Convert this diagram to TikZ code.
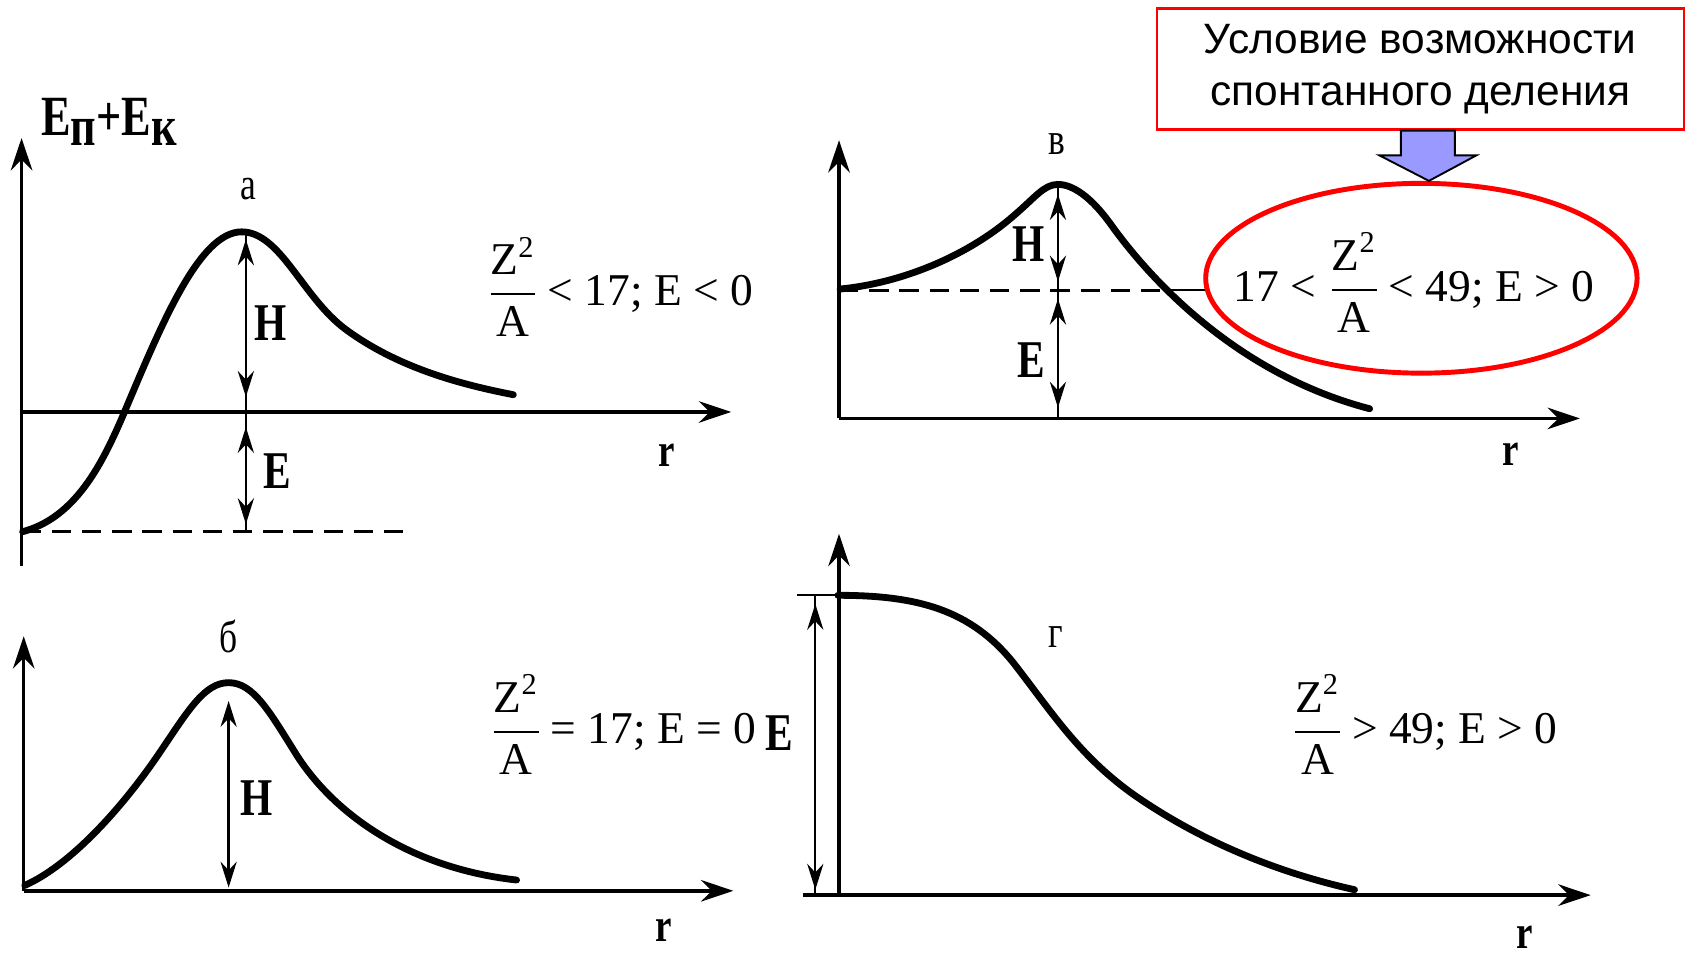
\documentclass[tikz,border=0pt]{standalone}
\usepackage{amsmath}
\usepackage{fontspec}
\setmainfont{Liberation Serif}
\newfontfamily\narrowfont[FakeStretch=0.78]{Liberation Serif}
\newfontfamily\notefont{Liberation Sans}
\usetikzlibrary{positioning, arrows.meta, shapes.geometric, calc}
\definecolor{arrowblue}{RGB}{153,153,255}
\newcommand{\zfrac}{$\dfrac{\text{Z}^{\text{2}}}{\text{A}}$}
\tikzset{
  axis/.style={line width=0.9pt, -{Stealth[length=3mm, width=2mm, inset=1mm]}},
  curve/.style={line width=1.8pt, line cap=round},
  dimline/.style={line width=0.55pt},
  dimarr/.style={line width=0.6pt, {Stealth[length=2.4mm, width=1.5mm, inset=0.8mm]}-{Stealth[length=2.4mm, width=1.5mm, inset=0.8mm]}},
  base/.style={line width=0.75pt, dash pattern=on 1.8mm off 1mm},
  lbl/.style={font=\narrowfont\bfseries\fontsize{14}{16}\selectfont, inner sep=0pt},
  rlbl/.style={font=\narrowfont\bfseries\fontsize{12.5}{14}\selectfont, inner sep=0pt},
  tag/.style={font=\narrowfont\fontsize{12}{14}\selectfont, inner sep=0pt},
  fml/.style={font=\fontsize{12}{14}\selectfont, inner sep=0pt},
  note/.style={draw=red, line width=0.6pt, minimum width=48.9mm, minimum height=11.2mm, align=center, font=\notefont\fontsize{11.2}{13.6}\selectfont},
  oval/.style={draw=red, line width=1.3pt, ellipse, minimum width=40mm, minimum height=17.6mm, inner sep=0pt},
}

\begin{document}
\begin{tikzpicture}[>=Stealth, x=0.1mm, y=-0.1mm]
  \useasboundingbox (0,0) rectangle (1568,885);

  % panel a
  \draw[axis] (20,525) -- (20,128);
  \draw[axis] (20,382) -- (678,382);
  \draw[curve] (21,493) .. controls (70,480) and (95,430) .. (115,383) .. controls (150,300) and (185,215) .. (224,215) .. controls (260,215) and (280,275) .. (320,305) .. controls (370,342) and (430,357) .. (476,366);
  \draw[base] (20,493) -- (380,493);
  \draw[dimline] (228,215) -- (228,493);
  \draw[dimarr] (228,222) -- (228,368);
  \draw[dimarr] (228,396) -- (228,486);
  \node[lbl] (ha) at (251,300) {H};
  \node[lbl] (ea) at (257,437) {E};
  \node[tag] (ta) at (230,175) {а};
  \node[rlbl] (ra) at (618,422) {r};
  \node[lbl, font=\narrowfont\bfseries\fontsize{15}{17}\selectfont] (en) at (101,113) {E\raisebox{-2.8pt}{п}+E\raisebox{-2.8pt}{к}};
  \node[fml, anchor=west] (fa) at (450,266) {\zfrac\,< 17; E < 0};

  % panel b
  \draw[axis] (22,826) -- (22,590);
  \draw[axis] (22,826) -- (680,826);
  \draw[curve] (23,821) .. controls (70,800) and (120,740) .. (150,695) .. controls (175,658) and (190,633) .. (212,633) .. controls (235,633) and (250,660) .. (275,700) .. controls (310,755) and (380,805) .. (479,816);
  \draw[dimarr] (212,650) -- (212,823);
  \node[lbl] (hb) at (238,740) {H};
  \node[tag] (tb) at (212,590) {б};
  \node[rlbl] (rb) at (615,863) {r};
  \node[fml, anchor=west] (fb) at (453,672) {\zfrac\,= 17; E = 0};

  % panel v
  \draw[axis] (778,388) -- (778,130);
  \draw[axis] (778,388) -- (1465,388);
  \draw[curve] (779,268) .. controls (840,262) and (900,235) .. (940,200) .. controls (960,183) and (968,171) .. (981,171) .. controls (995,171) and (1012,183) .. (1030,208) .. controls (1060,250) and (1140,345) .. (1270,379);
  \node[oval] (cond) at (1318,258) {};
  \node[fml] (fv) at (1311,262) {17 < \zfrac\,< 49; E > 0};
  \draw[base] (778,269) -- (1078,269);
  \draw[dimline] (1078,269) -- (1117,269);
  \draw[dimline] (981,171) -- (981,388);
  \draw[dimarr] (981,180) -- (981,261);
  \draw[dimarr] (981,277) -- (981,378);
  \node[lbl] (hv) at (954,226) {H};
  \node[lbl] (ev) at (956,334) {E};
  \node[tag] (tv) at (980,134) {в};
  \node[rlbl] (rv) at (1401,421) {r};

  % note
  \node[note] (note) at (1317,64) {Условие возможности\\спонтанного деления};
  \draw[fill=arrowblue, line width=0.5pt] ($(note.south)+(-18,0)$) -- ($(note.south)+(-18,23)$) -- ($(note.south)+(-38,23)$) -- ($(cond.north)+(7,0)$) -- ($(note.south)+(52,23)$) -- ($(note.south)+(32,23)$) -- ($(note.south)+(32,0)$) -- cycle;

  % panel g
  \draw[axis] (778,830) -- (778,495);
  \draw[axis] (745,830) -- (1475,830);
  \draw[curve] (777,552) .. controls (850,552) and (900,565) .. (940,615) .. controls (975,660) and (1000,700) .. (1050,736) .. controls (1110,778) and (1180,808) .. (1256,825);
  \draw[dimline] (739,552) -- (778,552);
  \draw[dimline] (756,552) -- (756,830);
  \draw[dimarr] (756,560) -- (756,825);
  \node[lbl] (eg) at (723,680) {E};
  \node[tag] (tg) at (979,591) {г};
  \node[rlbl] (rg) at (1414,869) {r};
  \node[fml, anchor=west] (fg) at (1196,672) {\zfrac\,> 49; E > 0};
\end{tikzpicture}
\end{document}
